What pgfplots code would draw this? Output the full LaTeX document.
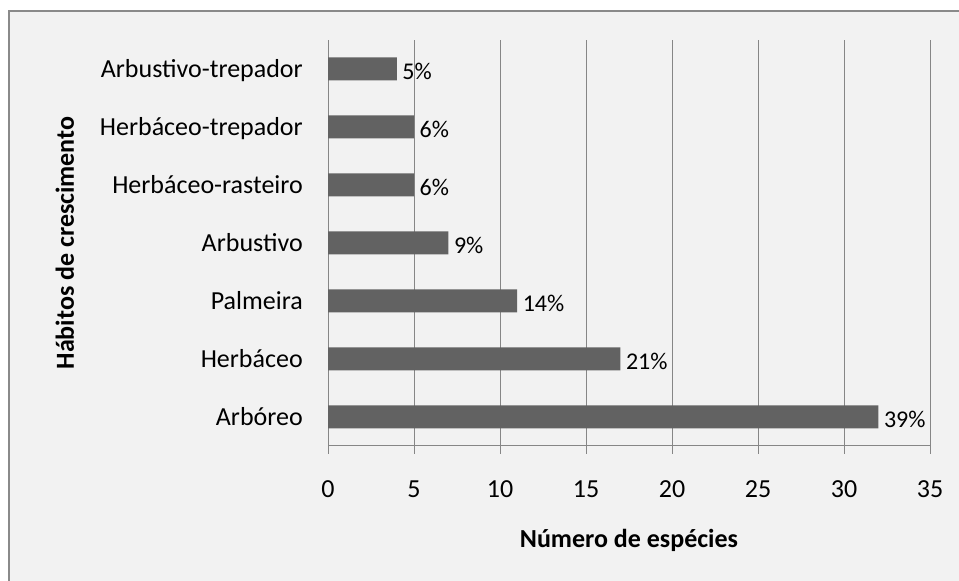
\documentclass[border=0pt]{standalone}
\usepackage{pgfplots}
\pgfplotsset{compat=1.18}
\usepackage{fontspec}
\setmainfont{Carlito}
\definecolor{bgc}{HTML}{F2F2F2}
\definecolor{framec}{HTML}{8A8A8A}
\definecolor{gridc}{HTML}{868686}
\definecolor{barc}{HTML}{626262}
\begin{document}
\begin{tikzpicture}[x=0.75pt,y=0.75pt]
\useasboundingbox (0,0) rectangle (959,581);
\fill[white] (0,0) rectangle (959,581);
\draw[framec, line width=1.5pt, fill=bgc] (9,570) rectangle (985,-30);
\begin{axis}[
  at={(246pt,101.25pt)}, anchor=south west,
  scale only axis, width=451.5pt, height=304.5pt,
  xbar, bar width=17.25pt,
  xmin=0, xmax=35, ymin=-0.5, ymax=6.5,
  xtick={0,5,...,35},
  ytick={0,...,6},
  yticklabels={Arbóreo,Herbáceo,Palmeira,Arbustivo,Herbáceo-rasteiro,Herbáceo-trepador,Arbustivo-trepador},
  xmajorgrids, grid style={gridc, line width=0.75pt},
  axis x line*=bottom, axis y line*=left,
  axis line style={gridc, line width=0.75pt},
  tick align=outside, major tick length=6pt,
  xtick style={gridc, line width=0.75pt},
  ytick style={draw=none},
  /pgf/number format/assume math mode=true,
  tick label style={font=\fontsize{19.5pt}{23pt}\selectfont, text=black},
  xticklabel style={anchor=base, yshift=-32.25pt},
  yticklabel style={anchor=base east, inner sep=0pt, xshift=-12.75pt, yshift=-6.4pt},
  xlabel={\textbf{Número de espécies}},
  ylabel={\textbf{Hábitos de crescimento}},
  label style={font=\fontsize{19.5pt}{23pt}\selectfont},
  xlabel style={at={(axis description cs:0.5,-0.2488)}, anchor=base},
  ylabel style={at={(axis description cs:-0.437,0.5)}, anchor=center, rotate=0},
  point meta=explicit symbolic,
  nodes near coords,
  nodes near coords style={anchor=base west, inner sep=0pt, xshift=4pt, yshift=-8pt, font=\fontsize{18pt}{21pt}\selectfont, text=black},
]
\addplot[fill=barc, draw=none] coordinates {
  (32,0) [39\%]
  (17,1) [21\%]
  (11,2) [14\%]
  (7,3) [9\%]
  (5,4) [6\%]
  (5,5) [6\%]
  (4,6) [5\%]
};
\end{axis}
\end{tikzpicture}
\end{document}
